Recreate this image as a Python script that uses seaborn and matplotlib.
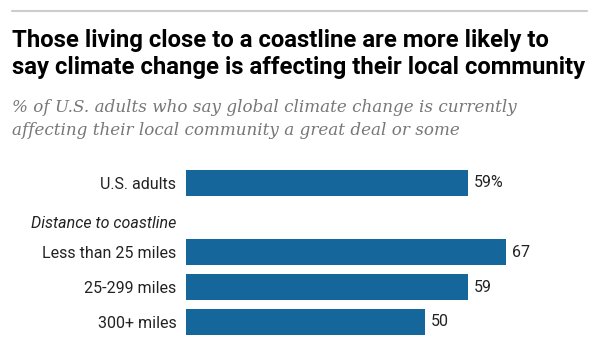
import matplotlib
matplotlib.use("Agg")
import matplotlib.pyplot as plt
import matplotlib.transforms as mtransforms
import seaborn as sns
import pandas as pd

# datos
grupos = ["U.S. adults", "Less than 25 miles", "25-299 miles", "300+ miles"]
valores = [59, 67, 59, 50]
encabezado = "Distance to coastline"
orden = ["U.S. adults", encabezado, "Less than 25 miles", "25-299 miles", "300+ miles"]
etiquetas = [f"{v}%" if i == 0 else f"{v}" for i, v in enumerate(valores)]

titulo = ["Those living close to a coastline are more likely to",
          "say climate change is affecting their local community"]
subtitulo = ["% of U.S. adults who say global climate change is currently",
             "affecting their local community a great deal or some"]

df = pd.DataFrame({"grupo": grupos, "valor": valores})

sns.set_theme(style="white")
plt.rcParams["font.family"] = ["Roboto", "DejaVu Sans"]

W, H = 599, 358
fig = plt.figure(figsize=(W / 100, H / 100), dpi=100)

# ejes en pixeles: x 186..586, y 150..350
ax = fig.add_axes([186 / W, (H - 350) / H, 400 / W, 200 / H])
sns.barplot(data=df, x="valor", y="grupo", order=orden, orient="h",
            color="#15669b", saturation=1, width=0.75, ax=ax,
            edgecolor="none", errorbar=None)

ax.set_xlim(0, 400 / 4.78)
u = 34.74
ax.set_ylim((350 - 182.8) / u, (150 - 182.8) / u)
ax.set_xlabel("")
ax.set_ylabel("")
ax.set_xticks([])
sns.despine(ax=ax, left=True, bottom=True)
ax.tick_params(axis="y", length=0, pad=7, labelsize=11.5, labelcolor="#222222")
for t in ax.get_yticklabels():
    if t.get_text() == encabezado:
        t.set_fontstyle("italic")
        t.set_transform(t.get_transform() +
                        mtransforms.ScaledTranslation(0, -3 / 72, fig.dpi_scale_trans))

ax.bar_label(ax.containers[0], labels=etiquetas, padding=4,
             fontsize=11.5, color="#222222")

# linea gris superior
fig.add_artist(plt.Line2D([12 / W, 587 / W], [1 - 11 / H, 1 - 11 / H],
                          color="#cccccc", lw=1.5))

for linea, base in zip(titulo, [47, 74]):
    fig.text(12 / W, 1 - base / H, linea, ha="left", va="baseline",
             fontsize=17.2, fontweight="bold", color="#000000")
for linea, base in zip(subtitulo, [112, 135]):
    fig.text(12 / W, 1 - base / H, linea, ha="left", va="baseline",
             fontsize=12.1, fontstyle="italic", color="#777777",
             family=["DejaVu Serif"])

fig.savefig("out.png", dpi=100)
